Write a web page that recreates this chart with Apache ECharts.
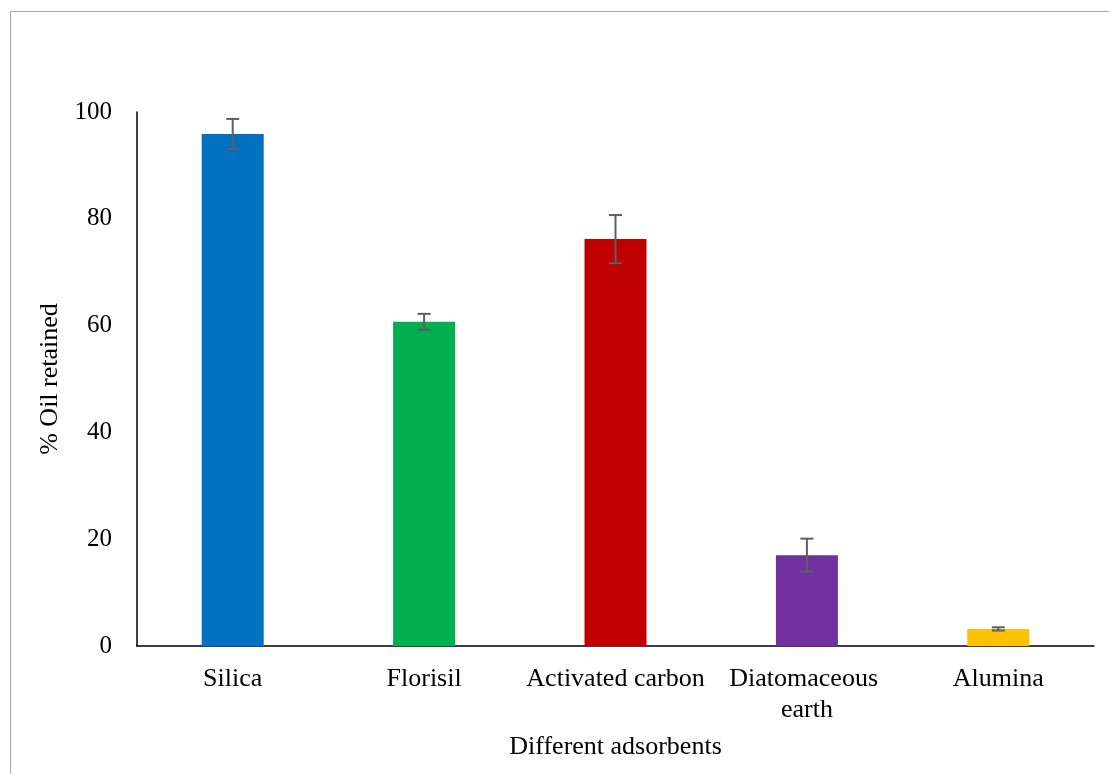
<!DOCTYPE html>
<html>
<head>
<meta charset="utf-8">
<title>% Oil retained by different adsorbents</title>
<script src="https://cdn.jsdelivr.net/npm/echarts@6/dist/echarts.min.js"></script>
<style>
  html, body { margin: 0; padding: 0; background: #ffffff; }
  #chart { width: 1109px; height: 774px; }
</style>
</head>
<body>
<div id="chart"></div>
<script>
// Adsorbents tested and the mean share of oil each one retained (%)
const categories = ['Silica', 'Florisil', 'Activated carbon', 'Diatomaceous earth', 'Alumina'];
const retained = [95.9, 60.7, 76.2, 17.0, 3.2];
// Half-length of each error bar (± %)
const errors = [2.8, 1.5, 4.5, 3.1, 0.3];
// Fill colour of each adsorbent's bar
const barColors = ['#0070C0', '#00B050', '#C00000', '#7030A0', '#FFC000'];
// Value-axis ticks
const yTicks = [0, 20, 40, 60, 80, 100];

const FONT = '"Liberation Serif", "Times New Roman", serif';

const chart = echarts.init(document.getElementById('chart'), null, { renderer: 'canvas' });

chart.setOption({
  animation: false,
  backgroundColor: '#ffffff',
  graphic: [{
    type: 'rect',
    shape: { x: 10.5, y: 11.5, width: 1120, height: 800 },
    style: { fill: 'none', stroke: '#a6a6a6', lineWidth: 1 },
    silent: true,
    z: -1
  }],
  grid: {
    left: 137, right: 15, top: 112, bottom: 128,
    containLabel: false, outerBoundsMode: 'none'
  },
  xAxis: {
    type: 'category',
    data: categories,
    name: 'Different adsorbents',
    nameLocation: 'middle',
    nameGap: 88,
    nameTextStyle: { fontFamily: FONT, fontSize: 26, color: '#000000' },
    axisLine: { show: true, lineStyle: { color: '#000000', width: 1.5 } },
    axisTick: { show: false },
    axisLabel: {
      fontFamily: FONT, fontSize: 26, color: '#000000', margin: 18,
      interval: 0, width: 186, overflow: 'break', lineHeight: 31
    },
    splitLine: { show: false }
  },
  yAxis: {
    type: 'value',
    min: yTicks[0],
    max: yTicks[yTicks.length - 1],
    interval: yTicks[1] - yTicks[0],
    name: '% Oil retained',
    nameLocation: 'middle',
    nameRotate: 90,
    nameGap: 63,
    nameTextStyle: { fontFamily: FONT, fontSize: 26, color: '#000000' },
    axisLine: { show: true, lineStyle: { color: '#000000', width: 1.5 } },
    axisTick: { show: false },
    axisLabel: { fontFamily: FONT, fontSize: 25, color: '#000000', margin: 25 },
    splitLine: { show: false }
  },
  series: [
    {
      type: 'bar',
      barWidth: 62,
      data: retained.map((v, i) => ({ value: v, itemStyle: { color: barColors[i] } })),
      z: 2
    },
    {
      // Error bars: vertical whisker with caps at mean ± error
      type: 'custom',
      data: retained.map((v, i) => [i, v - errors[i], v + errors[i]]),
      encode: { x: 0, y: [1, 2] },
      z: 3,
      renderItem: function (params, api) {
        const x = api.value(0);
        const lo = api.coord([x, api.value(1)]);
        const hi = api.coord([x, api.value(2)]);
        const half = 6.5;
        const style = { stroke: '#5f5f5f', lineWidth: 2, fill: null };
        return {
          type: 'group',
          children: [
            { type: 'line', shape: { x1: hi[0], y1: hi[1], x2: lo[0], y2: lo[1] }, style: style },
            { type: 'line', shape: { x1: hi[0] - half, y1: hi[1], x2: hi[0] + half, y2: hi[1] }, style: style },
            { type: 'line', shape: { x1: lo[0] - half, y1: lo[1], x2: lo[0] + half, y2: lo[1] }, style: style }
          ]
        };
      }
    }
  ]
});
</script>
</body>
</html>
